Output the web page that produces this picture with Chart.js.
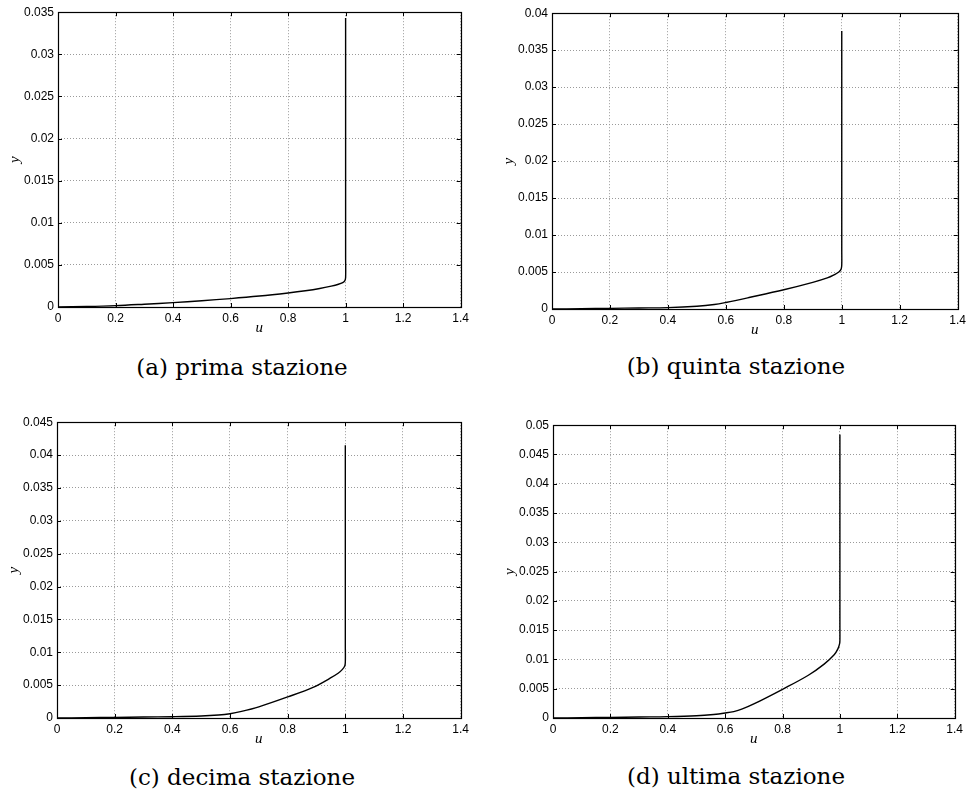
<!DOCTYPE html>
<html>
<head>
<meta charset="utf-8">
<script src="https://cdn.jsdelivr.net/npm/chart.js@4.4.1/dist/chart.umd.min.js"></script>
<style>
  html, body { margin: 0; padding: 0; background: #fff; overflow: hidden; }
  body { width: 971px; height: 791px; position: relative; }
  canvas { position: absolute; }
  .cap {
    position: absolute; width: 380px; text-align: center;
    font-family: "DejaVu Serif", "Liberation Serif", serif;
    font-size: 23px; line-height: 30px; color: #000; white-space: nowrap;
  }
</style>
</head>
<body>
<script>
// Velocity profiles u(y) at four stations along the plate
const X_TICKS = [0, 0.2, 0.4, 0.6, 0.8, 1, 1.2, 1.4];

const Y_TICKS_A = [0, 0.005, 0.01, 0.015, 0.02, 0.025, 0.03, 0.035];
const Y_TICKS_B = [0, 0.005, 0.01, 0.015, 0.02, 0.025, 0.03, 0.035, 0.04];
const Y_TICKS_C = [0, 0.005, 0.01, 0.015, 0.02, 0.025, 0.03, 0.035, 0.04, 0.045];
const Y_TICKS_D = [0, 0.005, 0.01, 0.015, 0.02, 0.025, 0.03, 0.035, 0.04, 0.045, 0.05];

// (a) prima stazione
const U_A = [0, 0.1, 0.2, 0.3, 0.4, 0.5, 0.6, 0.7, 0.8, 0.86, 0.91, 0.95, 0.975, 0.99, 0.997, 1, 1, 1];
const Y_A = [0, 0.00006, 0.00016, 0.00033, 0.00052, 0.00075, 0.001, 0.0013, 0.00167, 0.00193, 0.0022, 0.00248, 0.0027, 0.0029, 0.0031, 0.0035, 0.006, 0.0343];

// (b) quinta stazione
const U_B = [0, 0.1, 0.2, 0.3, 0.4, 0.5, 0.56, 0.6, 0.68, 0.8, 0.9, 0.95, 0.975, 0.99, 0.998, 1, 1, 1];
const Y_B = [0, 0.00004, 0.00009, 0.00014, 0.00019, 0.00037, 0.0006, 0.00088, 0.00155, 0.0026, 0.0036, 0.0042, 0.00465, 0.005, 0.0054, 0.006, 0.008, 0.0376];

// (c) decima stazione
const U_C = [0, 0.1, 0.2, 0.3, 0.4, 0.5, 0.56, 0.6, 0.64, 0.7, 0.8, 0.89, 0.945, 0.975, 0.99, 0.998, 1, 1, 1];
const Y_C = [0, 0.00005, 0.0001, 0.00015, 0.0002, 0.0003, 0.00045, 0.00065, 0.001, 0.0017, 0.0032, 0.0047, 0.006, 0.0068, 0.0074, 0.0079, 0.0085, 0.011, 0.0415];

// (d) ultima stazione
const U_D = [0, 0.1, 0.2, 0.3, 0.4, 0.5, 0.56, 0.6, 0.63, 0.66, 0.7, 0.8, 0.89, 0.945, 0.98, 0.993, 0.999, 1, 1, 1];
const Y_D = [0, 0.00005, 0.0001, 0.00017, 0.00023, 0.00038, 0.0006, 0.00085, 0.0011, 0.00155, 0.0024, 0.0049, 0.0073, 0.0092, 0.0108, 0.0118, 0.0127, 0.0133, 0.016, 0.0484];

const CAPTIONS = ['(a) prima stazione', '(b) quinta stazione', '(c) decima stazione', '(d) ultima stazione'];
const X_TITLE = 'u';
const Y_TITLE = 'y';

// Page layout: plot-area boxes and caption centres
const PLOT_BOXES = [
  { left: 58,  top: 11,  right: 463, bottom: 307 },
  { left: 552, top: 12,  right: 960, bottom: 309 },
  { left: 57,  top: 421, right: 463, bottom: 718 },
  { left: 553, top: 424, right: 957, bottom: 718 }
];
const CAPTION_CENTERS = [[242, 367], [736, 366], [242, 777], [736, 776]];

const PAD_L = 56, PAD_T = 10, PAD_R = 10, PAD_B = 30;
const TICK_FONT = { family: '"Liberation Sans", Arial, sans-serif', size: 12 };
const TITLE_FONT = { family: '"Liberation Serif", serif', style: 'italic', size: 15, lineHeight: 1 };
const GRID_COLOR = '#9a9a9a';

const fmt = v => String(Number(v.toFixed(4)));

// Box around the axes with short inward tick marks on all four sides
const framePlugin = {
  id: 'frame',
  afterDraw(chart) {
    const { ctx, chartArea: a, scales: { x, y } } = chart;
    const len = 4;
    ctx.save();
    ctx.strokeStyle = '#000';
    ctx.lineWidth = 1;
    ctx.beginPath();
    x.ticks.forEach(t => {
      const px = Math.round(x.getPixelForValue(t.value)) + 0.5;
      ctx.moveTo(px, a.bottom); ctx.lineTo(px, a.bottom - len);
      ctx.moveTo(px, a.top);    ctx.lineTo(px, a.top + len);
    });
    y.ticks.forEach(t => {
      const py = Math.round(y.getPixelForValue(t.value)) + 0.5;
      ctx.moveTo(a.left, py);  ctx.lineTo(a.left + len, py);
      ctx.moveTo(a.right, py); ctx.lineTo(a.right - len, py);
    });
    ctx.stroke();
    ctx.lineWidth = 1.2;
    ctx.strokeRect(Math.round(a.left) + 0.5, Math.round(a.top) + 0.5,
                   Math.round(a.right - a.left), Math.round(a.bottom - a.top));
    ctx.restore();
  }
};

function makePanel(i, uVals, yVals, yTicks) {
  const box = PLOT_BOXES[i];
  const cv = document.createElement('canvas');
  cv.width = box.right - box.left + PAD_L + PAD_R;
  cv.height = box.bottom - box.top + PAD_T + PAD_B;
  cv.style.left = (box.left - PAD_L) + 'px';
  cv.style.top = (box.top - PAD_T) + 'px';
  document.body.appendChild(cv);

  const yMax = yTicks[yTicks.length - 1];

  new Chart(cv, {
    type: 'scatter',
    data: {
      datasets: [{
        data: uVals.map((u, k) => ({ x: u, y: yVals[k] })),
        showLine: true,
        borderColor: '#000',
        borderWidth: 1.4,
        pointRadius: 0,
        tension: 0.35,
        fill: false
      }]
    },
    options: {
      responsive: false,
      animation: false,
      events: [],
      layout: { padding: { left: 0, top: PAD_T, right: PAD_R, bottom: 0 } },
      plugins: { legend: { display: false }, tooltip: { enabled: false } },
      scales: {
        x: {
          type: 'linear', min: 0, max: X_TICKS[X_TICKS.length - 1],
          afterBuildTicks: s => { s.ticks = X_TICKS.map(v => ({ value: v })); },
          afterFit: s => { s.height = PAD_B; },
          grid: { color: GRID_COLOR, lineWidth: 1, drawTicks: false },
          border: { display: false, dash: [1, 2] },
          ticks: { padding: 4, autoSkip: false, maxRotation: 0, color: '#000', font: TICK_FONT, callback: fmt },
          title: { display: true, text: X_TITLE, color: '#000', font: TITLE_FONT, padding: { top: 0, bottom: 1 } }
        },
        y: {
          type: 'linear', min: 0, max: yMax,
          afterBuildTicks: s => { s.ticks = yTicks.map(v => ({ value: v })); },
          afterFit: s => { s.width = PAD_L; },
          grid: { color: GRID_COLOR, lineWidth: 1, drawTicks: false },
          border: { display: false, dash: [1, 2] },
          ticks: { padding: 4, autoSkip: false, color: '#000', font: TICK_FONT, callback: fmt },
          title: { display: true, text: Y_TITLE, color: '#000', font: TITLE_FONT, padding: { top: 6, bottom: 0 } }
        }
      }
    },
    plugins: [framePlugin]
  });

  const cap = document.createElement('div');
  cap.className = 'cap';
  cap.textContent = CAPTIONS[i];
  cap.style.left = (CAPTION_CENTERS[i][0] - 190) + 'px';
  cap.style.top = (CAPTION_CENTERS[i][1] - 15) + 'px';
  document.body.appendChild(cap);
}

makePanel(0, U_A, Y_A, Y_TICKS_A);
makePanel(1, U_B, Y_B, Y_TICKS_B);
makePanel(2, U_C, Y_C, Y_TICKS_C);
makePanel(3, U_D, Y_D, Y_TICKS_D);
</script>
</body>
</html>
